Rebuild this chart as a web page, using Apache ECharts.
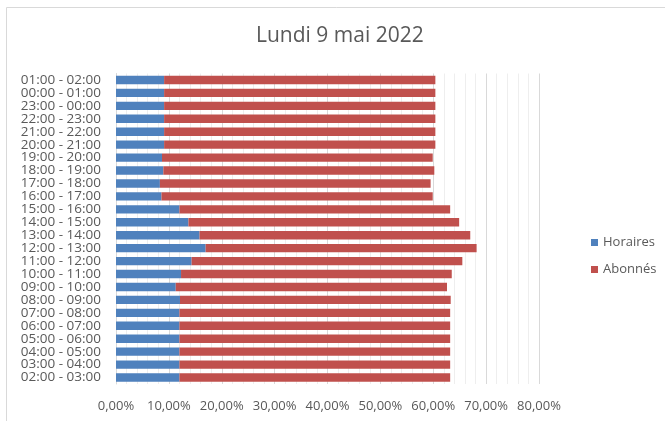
<!DOCTYPE html>
<html>
<head>
<meta charset="utf-8">
<script src="https://cdn.jsdelivr.net/npm/echarts@6/dist/echarts.min.js"></script>
<style>
  html, body { margin: 0; padding: 0; background: #fff; }
  #main { width: 665px; height: 421px; }
</style>
</head>
<body>
<div id="main"></div>
<script>
// tranches horaires, du bas vers le haut
var categories = [
  '02:00 - 03:00', '03:00 - 04:00', '04:00 - 05:00', '05:00 - 06:00',
  '06:00 - 07:00', '07:00 - 08:00', '08:00 - 09:00', '09:00 - 10:00',
  '10:00 - 11:00', '11:00 - 12:00', '12:00 - 13:00', '13:00 - 14:00',
  '14:00 - 15:00', '15:00 - 16:00', '16:00 - 17:00', '17:00 - 18:00',
  '18:00 - 19:00', '19:00 - 20:00', '20:00 - 21:00', '21:00 - 22:00',
  '22:00 - 23:00', '23:00 - 00:00', '00:00 - 01:00', '01:00 - 02:00'
]
// valeurs en %
var horaires = [
  12.0, 12.0, 12.0, 12.0, 12.0, 12.0, 12.1, 11.3,
  12.3, 14.3, 16.95, 15.8, 13.7, 12.0, 8.6, 8.3,
  8.95, 8.7, 9.1, 9.1, 9.1, 9.1, 9.1, 9.1
]
var abonnes = [
  51.2, 51.2, 51.2, 51.2, 51.2, 51.2, 51.2, 51.3,
  51.2, 51.2, 51.25, 51.2, 51.2, 51.2, 51.3, 51.2,
  51.25, 51.2, 51.3, 51.3, 51.3, 51.3, 51.3, 51.3
]

var myChart = echarts.init(document.getElementById('main'))
var font = 'Open Sans'
var option = {
  animation: false,
  color: ['#4f81bd', '#c0504d'],
  title: {
    text: 'Lundi 9 mai 2022',
    left: 251,
    top: 21,
    textStyle: { color: '#595959', fontSize: 21, fontWeight: 'normal', fontFamily: font }
  },
  legend: {
    orient: 'vertical',
    left: 586,
    top: 231,
    itemWidth: 7,
    itemHeight: 7,
    itemGap: 14,
    icon: 'rect',
    textStyle: { color: '#595959', fontSize: 13, fontFamily: font },
    data: ['Horaires', 'Abonnés']
  },
  grid: {
    left: 116,
    right: 126,
    top: 73.5,
    bottom: 37
  },
  xAxis: {
    type: 'value',
    min: 0,
    max: 80,
    interval: 10,
    axisLine: { show: false },
    axisTick: { show: false },
    axisLabel: {
      color: '#595959',
      fontSize: 13,
      fontFamily: font,
      margin: 16,
      formatter: function (v) { return v.toFixed(2).replace('.', ',') + '%' }
    },
    splitLine: { lineStyle: { color: '#d9d9d9', width: 1 } },
    minorTick: { show: false, splitNumber: 5 },
    minorSplitLine: { show: true, lineStyle: { color: '#eeeeee', width: 1 } }
  },
  yAxis: {
    type: 'category',
    data: categories,
    axisLine: { show: true, lineStyle: { color: '#d9d9d9' } },
    axisTick: { show: false },
    axisLabel: { interval: 0, color: '#595959', fontSize: 13.5, fontFamily: font, margin: 15, lineHeight: 13 }
  },
  graphic: [{
    type: 'rect',
    shape: { x: 6.5, y: 7.5, width: 700, height: 500 },
    style: { fill: 'none', stroke: '#d9d9d9', lineWidth: 1 },
    silent: true
  }],
  series: [
    {
      name: 'Horaires',
      type: 'bar',
      stack: 'total',
      barCategoryGap: '35%',
      data: horaires
    },
    {
      name: 'Abonnés',
      type: 'bar',
      stack: 'total',
      barCategoryGap: '35%',
      data: abonnes
    }
  ]
}
option && myChart.setOption(option)
</script>
</body>
</html>
